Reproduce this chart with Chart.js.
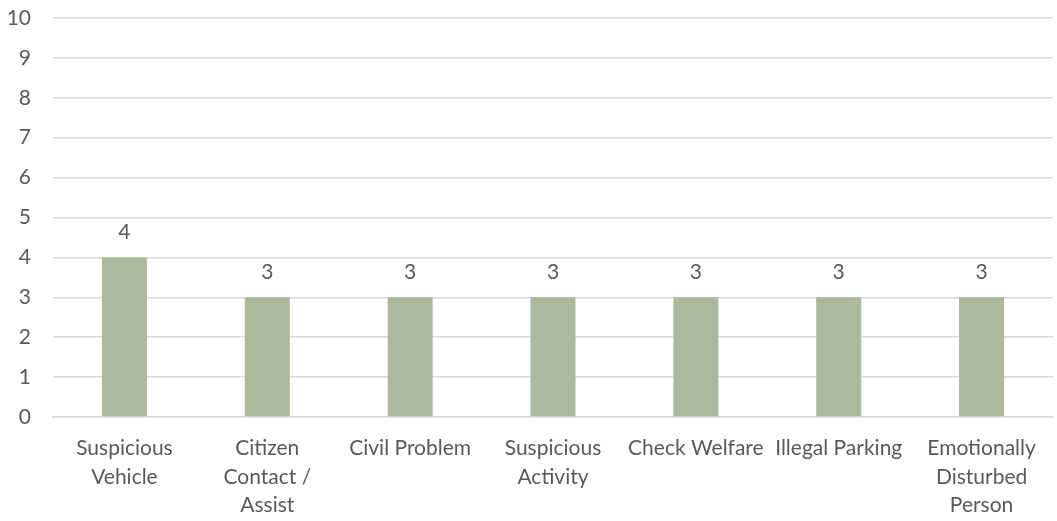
<!DOCTYPE html>
<html>
<head>
<meta charset="utf-8">
<script src="https://cdn.jsdelivr.net/npm/chart.js@4/dist/chart.umd.min.js"></script>
<style>
  html, body { margin: 0; padding: 0; background: #fff; }
  #wrap { width: 1057px; height: 521px; position: relative; }
</style>
</head>
<body>
<div id="wrap"><canvas id="callChart"></canvas></div>
<script>
// categorie e valori
const categories = [
    ['Suspicious', 'Vehicle'],
    ['Citizen', 'Contact /', 'Assist'],
    'Civil Problem',
    ['Suspicious', 'Activity'],
    'Check Welfare',
    'Illegal Parking',
    ['Emotionally', 'Disturbed', 'Person']
];
const callCounts = [4, 3, 3, 3, 3, 3, 3];
const yTicks = [0, 1, 2, 3, 4, 5, 6, 7, 8, 9, 10];

const textColor = '#595959';
const fontFamily = 'Lato, "Open Sans", sans-serif';

// etichette sopra le barre
const valueLabels = {
    id: 'valueLabels',
    afterDatasetsDraw(chart) {
        const ctx = chart.ctx;
        const meta = chart.getDatasetMeta(0);
        ctx.save();
        ctx.fillStyle = textColor;
        ctx.font = '21px ' + fontFamily;
        ctx.textAlign = 'center';
        ctx.textBaseline = 'middle';
        meta.data.forEach((bar, i) => {
            ctx.fillText(String(callCounts[i]), bar.x, bar.y - 25);
        });
        ctx.restore();
    }
};

const ctx = document.getElementById('callChart').getContext('2d');
new Chart(ctx, {
    type: 'bar',
    data: {
        labels: categories,
        datasets: [{
            data: callCounts,
            backgroundColor: '#AAB99C',
            barPercentage: 0.63,
            categoryPercentage: 0.5
        }]
    },
    options: {
        responsive: true,
        maintainAspectRatio: false,
        animation: false,
        layout: { padding: { top: 18, right: 4, left: 0, bottom: 0 } },
        scales: {
            y: {
                min: 0,
                max: 10,
                afterFit: s => { s.width = 53; s.paddingTop = 0; s.paddingBottom = 0; },
                afterBuildTicks: s => { s.ticks = yTicks.map(v => ({ value: v })); },
                ticks: { color: textColor, font: { family: fontFamily, size: 21 }, padding: 22 },
                grid: { color: '#D9D9D9', lineWidth: 1.5, drawTicks: false },
                border: { display: false }
            },
            x: {
                afterFit: s => { s.height = 104; },
                ticks: {
                    color: textColor,
                    font: { family: fontFamily, size: 21, lineHeight: 1.36 },
                    maxRotation: 0,
                    autoSkip: false,
                    padding: 9
                },
                grid: { display: false },
                border: { color: '#D9D9D9', width: 1.5 }
            }
        },
        plugins: {
            legend: { display: false },
            tooltip: { enabled: false }
        }
    },
    plugins: [valueLabels]
});
</script>
</body>
</html>
